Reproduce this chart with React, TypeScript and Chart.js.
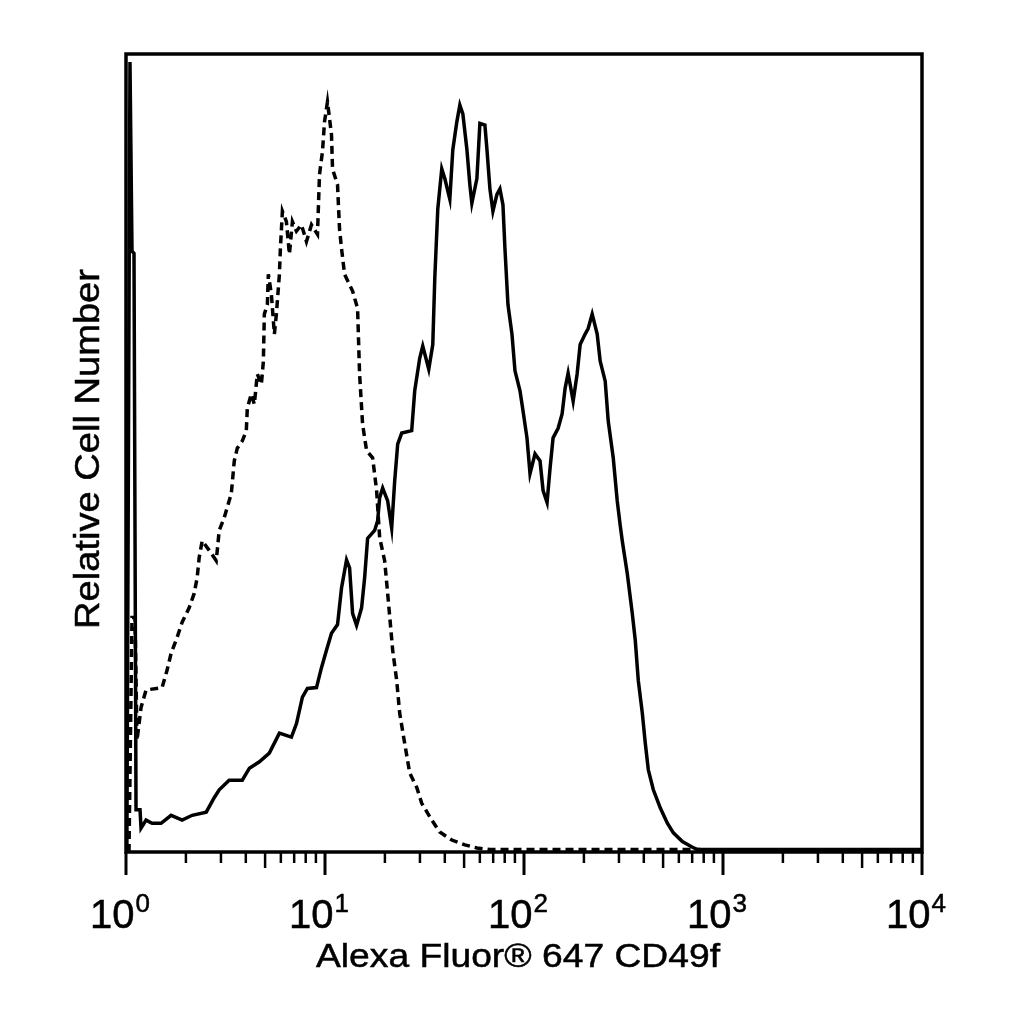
import { useEffect, useRef } from 'react';
import { Chart, registerables } from 'chart.js';

Chart.register(...registerables);

// Stained sample (solid): fluorescence value / relative count
const stainedX = [
  1.01, 1.047, 1.072, 1.097, 1.123, 1.176, 1.19, 1.261, 1.352, 1.5,
  1.685, 1.915, 2.15, 2.53, 2.775, 2.94, 3.3, 3.84, 4.17, 4.68,
  5.25, 5.9, 6.78, 7.19, 7.7, 8.16, 9.06, 9.6, 10.18, 10.78,
  11.56, 12.11, 12.83, 13.29, 13.76, 14.41, 15.27, 15.81, 16.37, 17.76,
  18.39, 18.82, 19.49, 20.65, 21.63, 22.4, 23.19, 24.29, 27.27, 28.24,
  29.93, 30.99, 33.22, 34.8, 35.62, 36.88, 38.62, 40.0, 42.39, 43.88,
  45.97, 47.6, 49.28, 51.62, 53.45, 54.7, 57.98, 60.03, 63.61, 65.1,
  67.41, 69.8, 73.12, 75.7, 78.38, 80.22, 83.06, 87.0, 90.09, 95.47,
  98.85, 103.5, 107.2, 113.6, 120.4, 124.7, 130.6, 135.2, 140.0, 148.4,
  155.4, 160.9, 166.6, 176.6, 184.9, 191.5, 202.9, 210.1, 220.1, 233.2,
  241.5, 255.9, 265.0, 280.8, 294.1, 304.5, 311.7, 330.3, 350.0, 362.4,
  375.2, 393.1, 407.0, 421.4, 446.6, 484.3, 525.3, 563.1, 625.1, 702.1,
  744.0, 10000,
];
const stainedY = [
  0, 99.0, 75.3, 75.0, 5.3, 5.3, 3.0, 4.0, 3.6, 3.6,
  4.6, 4.0, 4.6, 5.0, 6.8, 7.8, 9.0, 9.0, 10.5, 11.3,
  12.4, 14.9, 14.4, 16.1, 19.4, 20.5, 20.6, 23.1, 25.3, 27.4,
  28.5, 33.1, 36.6, 35.6, 29.9, 28.4, 30.6, 34.3, 39.3, 40.3,
  41.5, 44.4, 45.6, 44.0, 40.6, 46.5, 51.1, 52.5, 52.8, 57.8,
  61.9, 63.4, 60.5, 63.6, 71.9, 80.6, 85.6, 84.4, 81.8, 88.0,
  91.5, 93.6, 92.5, 88.1, 83.6, 81.3, 84.4, 91.3, 91.1, 88.1,
  83.1, 80.3, 82.4, 83.1, 81.1, 75.6, 68.6, 64.9, 60.3, 57.8,
  55.3, 51.9, 47.4, 49.9, 49.0, 45.3, 43.8, 48.1, 51.9, 53.1,
  54.9, 58.1, 60.0, 56.5, 59.9, 63.6, 64.9, 65.6, 67.4, 64.9,
  61.5, 59.0, 54.0, 49.4, 44.0, 40.9, 39.0, 34.9, 29.9, 26.5,
  21.5, 17.4, 13.6, 10.3, 7.8, 5.5, 3.6, 2.4, 1.3, 0.6,
  0.3, 0.3,
];

// Isotype control (dashed)
const controlX = [
  1.035, 1.072, 1.11, 1.136, 1.19, 1.261, 1.518, 1.609, 1.685, 1.807,
  1.915, 2.077, 2.201, 2.279, 2.332, 2.415, 2.619, 2.841, 2.941, 3.117,
  3.381, 3.5, 3.624, 3.84, 4.023, 4.07, 4.263, 4.414, 4.57, 4.788,
  4.901, 4.957, 5.133, 5.192, 5.376, 5.567, 5.698, 5.9, 5.968, 6.108,
  6.398, 6.624, 6.859, 7.186, 7.614, 8.069, 8.551, 9.167, 9.383, 9.714,
  9.942, 10.29, 10.78, 10.91, 11.56, 11.83, 12.11, 12.54, 13.76, 14.58,
  14.92, 15.45, 16.18, 17.35, 18.17, 18.82, 19.94, 20.65, 21.88, 22.92,
  23.73, 25.15, 26.65, 28.91, 30.63, 34.4, 37.74, 43.38, 50.44, 57.98,
  67.41, 770.2,
];
const controlY = [
  0, 29.4, 29.4, 14.0, 18.1, 20.3, 20.6, 22.8, 24.9, 26.9,
  28.8, 30.6, 32.4, 34.4, 36.9, 39.0, 37.8, 36.5, 40.3, 41.9,
  44.9, 49.0, 50.6, 51.5, 52.8, 55.6, 57.4, 56.1, 59.9, 58.6,
  61.5, 67.4, 68.6, 72.4, 69.9, 64.9, 67.4, 72.4, 75.6, 80.3,
  79.0, 74.9, 79.0, 77.8, 78.6, 76.5, 78.6, 77.4, 84.9, 87.8,
  91.5, 94.0, 89.9, 85.6, 83.6, 78.1, 75.6, 72.4, 70.3, 68.1,
  59.9, 53.6, 50.3, 49.4, 45.3, 39.4, 36.5, 32.4, 25.3, 21.5,
  17.4, 13.6, 9.9, 8.1, 6.1, 4.0, 2.5, 1.5, 0.9, 0.5,
  0.3, 0.3,
];

// Axis ticks
const decadeValues = [1, 10, 100, 1000, 10000];
const decadeExponents = ['0', '1', '2', '3', '4'];
const minorSteps = [2, 3, 4, 5, 6, 7, 8, 9];

const xTitle = 'Alexa Fluor® 647 CD49f';
const yTitle = 'Relative Cell Number';

const FONT = "'Liberation Sans', Arial, Helvetica, sans-serif";

// fill + thin stroke so the glyphs look as heavy as the scanned original
function inkText(ctx: CanvasRenderingContext2D, text: string, x: number, y: number) {
  ctx.fillText(text, x, y);
  ctx.strokeText(text, x, y);
}

function stretchedText(
  ctx: CanvasRenderingContext2D,
  text: string,
  width: number,
  size: number
) {
  ctx.font = `${size}px ${FONT}`;
  const k = width / ctx.measureText(text).width;
  ctx.scale(k, 1);
  ctx.textAlign = 'center';
  ctx.textBaseline = 'alphabetic';
  inkText(ctx, text, 0, 0);
}

// Frame, log ticks, superscript labels and titles
const flowAxes = {
  id: 'flowAxes',
  afterDatasetsDraw(chart: Chart) {
    const { ctx, chartArea: a } = chart;
    const x = chart.scales.x;
    ctx.save();
    ctx.strokeStyle = '#000';
    ctx.fillStyle = '#000';
    ctx.lineWidth = 3.5;
    ctx.strokeRect(a.left, a.top, a.right - a.left, a.bottom - a.top);

    const tick = (v: number, len: number, w: number) => {
      const px = x.getPixelForValue(v);
      ctx.lineWidth = w;
      ctx.beginPath();
      ctx.moveTo(px, a.bottom);
      ctx.lineTo(px, a.bottom + len);
      ctx.stroke();
    };

    decadeValues.forEach((v, i) => {
      tick(v, 23, 3);
      if (i < decadeValues.length - 1) {
        minorSteps.forEach((m) => tick(v * m, m === 5 ? 16 : 11, 2.5));
      }
    });

    // decade labels: 10 with raised exponent
    ctx.lineWidth = 0.5;
    ctx.textBaseline = 'alphabetic';
    ctx.textAlign = 'left';
    decadeValues.forEach((v, i) => {
      const px = x.getPixelForValue(v);
      ctx.font = `40px ${FONT}`;
      const wBase = ctx.measureText('10').width;
      ctx.font = `26px ${FONT}`;
      const wExp = ctx.measureText(decadeExponents[i]).width;
      const x0 = px - (wBase + wExp + 1) / 2 - 6;
      ctx.font = `40px ${FONT}`;
      inkText(ctx, '10', x0, a.bottom + 76);
      ctx.font = `26px ${FONT}`;
      inkText(ctx, decadeExponents[i], x0 + wBase + 1, a.bottom + 60);
    });

    ctx.save();
    ctx.translate((a.left + a.right) / 2 - 6, a.bottom + 115);
    stretchedText(ctx, xTitle, 404, 34);
    ctx.restore();

    ctx.save();
    ctx.translate(a.left - 27, (a.top + a.bottom) / 2 - 4);
    ctx.rotate(-Math.PI / 2);
    stretchedText(ctx, yTitle, 360, 35);
    ctx.restore();

    ctx.restore();
  },
};

export default function App() {
  const canvasRef = useRef<HTMLCanvasElement>(null);

  useEffect(() => {
    if (!canvasRef.current) return;
    const chart = new Chart(canvasRef.current, {
      type: 'line',
      data: {
        datasets: [
          {
            label: 'Isotype control',
            data: controlX.map((v, i) => ({ x: v, y: controlY[i] })),
            borderColor: '#000',
            borderWidth: 3.5,
            borderDash: [8, 5],
            pointRadius: 0,
            tension: 0,
          },
          {
            label: 'CD49f',
            data: stainedX.map((v, i) => ({ x: v, y: stainedY[i] })),
            borderColor: '#000',
            borderWidth: 3.5,
            pointRadius: 0,
            tension: 0,
          },
        ],
      },
      options: {
        animation: false,
        responsive: true,
        maintainAspectRatio: false,
        layout: { padding: { left: 126, top: 54, right: 102, bottom: 172 } },
        plugins: {
          legend: { display: false },
          tooltip: { enabled: false },
        },
        scales: {
          x: { type: 'logarithmic', min: 1, max: 10000, display: false },
          y: { type: 'linear', min: 0, max: 100, display: false },
        },
      },
      plugins: [flowAxes],
    });
    return () => chart.destroy();
  }, []);

  return (
    <div
      style={{
        position: 'fixed',
        left: 0,
        top: 0,
        width: 1024,
        height: 1024,
        background: '#fff',
      }}
    >
      <canvas ref={canvasRef} />
    </div>
  );
}
